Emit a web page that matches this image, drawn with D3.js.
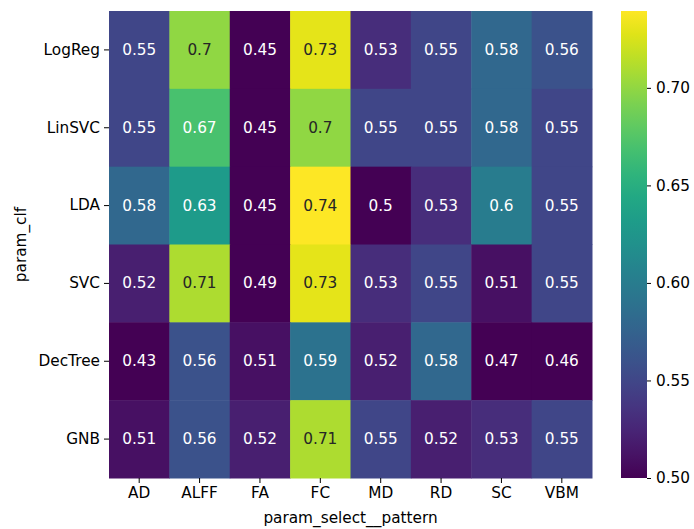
<!DOCTYPE html>
<html>
<head>
  <meta charset="utf-8">
  <title>param_clf vs param_select__pattern</title>
  <script src="https://d3js.org/d3.v7.min.js"></script>
  <style>
    html, body { margin: 0; padding: 0; background: #fff; }
    svg { display: block; }
    svg text { font-family: "DejaVu Sans", sans-serif; font-size: 15.3px; }
    .axis text { fill: #000; }
    .axis line { stroke: #000; stroke-width: 1px; }
    .axis path { display: none; }
  </style>
</head>
<body>
  <svg width="694" height="529"></svg>
  <script>
    // rows / cols of the grid
    const classifiers = ["LogReg", "LinSVC", "LDA", "SVC", "DecTree", "GNB"];
    const patterns = ["AD", "ALFF", "FA", "FC", "MD", "RD", "SC", "VBM"];

    // scores per classifier, same order as patterns
    const logReg  = [0.55, 0.70, 0.45, 0.73, 0.53, 0.55, 0.58, 0.56];
    const linSVC  = [0.55, 0.67, 0.45, 0.70, 0.55, 0.55, 0.58, 0.55];
    const lda     = [0.58, 0.63, 0.45, 0.74, 0.50, 0.53, 0.60, 0.55];
    const svc     = [0.52, 0.71, 0.49, 0.73, 0.53, 0.55, 0.51, 0.55];
    const decTree = [0.43, 0.56, 0.51, 0.59, 0.52, 0.58, 0.47, 0.46];
    const gnb     = [0.51, 0.56, 0.52, 0.71, 0.55, 0.52, 0.53, 0.55];

    const colorTicks = [0.50, 0.55, 0.60, 0.65, 0.70];
    const vmin = 0.50, vmax = 0.7394;

    const rows = [logReg, linSVC, lda, svc, decTree, gnb];
    const cells = [];
    rows.forEach((r, i) => r.forEach((v, j) => cells.push({ clf: classifiers[i], pat: patterns[j], value: v })));

    const svg = d3.select("svg");
    const mLeft = 109, mTop = 11, mRight = 592, mBottom = 478;

    const x = d3.scaleBand().domain(patterns).range([mLeft, mRight]);
    const y = d3.scaleBand().domain(classifiers).range([mTop, mBottom]);
    const color = d3.scaleSequential(d3.interpolateViridis).domain([vmin, vmax]).clamp(true);
    const fmt = d3.format(".2~g");

    // seaborn-like text color choice based on relative luminance
    function textColor(v) {
      const c = d3.rgb(color(v));
      const lin = [c.r, c.g, c.b].map(u => {
        u /= 255;
        return u <= 0.03928 ? u / 12.92 : Math.pow((u + 0.055) / 1.055, 2.4);
      });
      const lum = 0.2126 * lin[0] + 0.7152 * lin[1] + 0.0722 * lin[2];
      return lum > 0.408 ? "#262626" : "#fff";
    }

    svg.append("g").selectAll("rect")
      .data(cells)
      .join("rect")
      .attr("x", d => x(d.pat))
      .attr("y", d => y(d.clf))
      .attr("width", x.bandwidth() + 0.5)
      .attr("height", y.bandwidth() + 0.5)
      .attr("fill", d => color(d.value));

    svg.append("g").selectAll("text")
      .data(cells)
      .join("text")
      .attr("x", d => x(d.pat) + x.bandwidth() / 2)
      .attr("y", d => y(d.clf) + y.bandwidth() / 2)
      .attr("text-anchor", "middle")
      .attr("dominant-baseline", "central")
      .attr("fill", d => textColor(d.value))
      .text(d => fmt(d.value));

    svg.append("g")
      .attr("class", "axis")
      .attr("transform", `translate(${mLeft},0)`)
      .call(d3.axisLeft(y).tickSize(5).tickPadding(4).tickSizeOuter(0));

    svg.append("g")
      .attr("class", "axis")
      .attr("transform", `translate(0,${mBottom})`)
      .call(d3.axisBottom(x).tickSize(5).tickPadding(4).tickSizeOuter(0));

    svg.append("text")
      .attr("x", (mLeft + mRight) / 2)
      .attr("y", 523)
      .attr("text-anchor", "middle")
      .text("param_select__pattern");

    svg.append("text")
      .attr("transform", `translate(26,${(mTop + mBottom) / 2}) rotate(-90)`)
      .attr("text-anchor", "middle")
      .text("param_clf");

    // colorbar
    const cbLeft = 621, cbWidth = 26;
    const cy = d3.scaleLinear().domain([vmin, vmax]).range([mBottom, mTop]);
    const defs = svg.append("defs");
    const grad = defs.append("linearGradient")
      .attr("id", "cbar").attr("x1", 0).attr("y1", 1).attr("x2", 0).attr("y2", 0);
    d3.range(0, 1.0001, 0.05).forEach(t => {
      grad.append("stop").attr("offset", t).attr("stop-color", d3.interpolateViridis(t));
    });
    svg.append("rect")
      .attr("x", cbLeft).attr("y", mTop)
      .attr("width", cbWidth).attr("height", mBottom - mTop)
      .attr("fill", "url(#cbar)");

    svg.append("g")
      .attr("class", "axis")
      .attr("transform", `translate(${cbLeft + cbWidth},0)`)
      .call(d3.axisRight(cy).tickValues(colorTicks).tickFormat(d3.format(".2f"))
        .tickSize(4).tickPadding(5).tickSizeOuter(0));
  </script>
</body>
</html>
